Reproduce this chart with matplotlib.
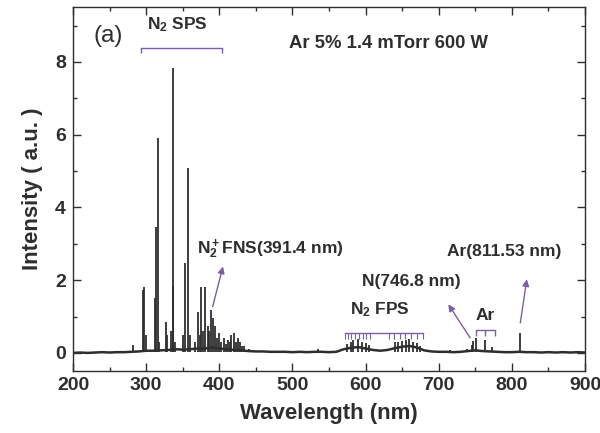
import matplotlib
matplotlib.use('Agg')
import matplotlib.pyplot as plt
import numpy as np

# continuum / baseline of the spectrum, read every 10 nm
base_nm = [200, 210, 220, 230, 240, 250, 260, 270, 280, 290,
           300, 310, 320, 330, 340, 350, 360, 370, 380, 390,
           400, 410, 420, 430, 440, 450, 460, 470, 480, 490,
           500, 510, 520, 530, 540, 550, 560, 570, 580, 590,
           600, 610, 620, 630, 640, 650, 660, 670, 680, 690,
           700, 710, 720, 730, 740, 750, 760, 770, 780, 790,
           800, 810, 820, 830, 840, 850, 860, 870, 880, 890, 900]
base_int = [0.0, 0.01, 0.0, 0.01, 0.02, 0.01, 0.02, 0.02, 0.03, 0.04,
            0.06, 0.06, 0.07, 0.08, 0.1, 0.09, 0.1, 0.12, 0.12, 0.15,
            0.12, 0.1, 0.08, 0.07, 0.05, 0.04, 0.04, 0.03, 0.03, 0.03,
            0.02, 0.03, 0.02, 0.03, 0.03, 0.02, 0.03, 0.1, 0.14, 0.16,
            0.12, 0.08, 0.06, 0.08, 0.13, 0.17, 0.19, 0.15, 0.07, 0.04,
            0.03, 0.03, 0.02, 0.03, 0.05, 0.07, 0.05, 0.04, 0.03, 0.02,
            0.02, 0.03, 0.02, 0.02, 0.01, 0.02, 0.01, 0.02, 0.01, 0.02, 0.01]

# emission lines (nm, intensity)
line_nm = [281.4, 295.3, 297.6, 299.5, 311.5, 313.5, 315.9, 318.0, 326.8, 328.5,
           333.5, 336.2, 337.1, 339.0, 350.0, 353.6, 357.7, 359.5, 367.2, 371.1,
           373.0, 375.5, 378.0, 380.5, 384.0, 386.0, 389.0, 391.4, 394.3, 397.0,
           399.8, 402.0, 405.9, 409.0, 411.5, 414.0, 416.0, 420.5, 423.0, 425.0,
           427.8, 431.0, 434.4, 440.0, 535.0,
           575.0, 580.0, 583.0, 590.0, 595.0, 600.0, 605.0,
           640.0, 645.0, 650.0, 655.0, 660.0, 665.0, 670.0, 675.0,
           715.0, 738.0, 745.0, 747.5, 751.0, 763.5, 772.4, 811.5]
line_int = [0.22, 1.72, 1.81, 0.5, 1.5, 3.45, 5.9, 0.3, 0.84, 0.5,
            0.6, 1.85, 7.82, 0.3, 0.5, 2.47, 5.08, 0.5, 0.3, 1.12,
            0.5, 1.82, 0.6, 1.82, 0.75, 0.6, 1.19, 0.95, 0.75, 0.4,
            0.56, 0.3, 0.42, 0.25, 0.36, 0.3, 0.48, 0.55, 0.3, 0.4,
            0.3, 0.2, 0.2, 0.12, 0.1,
            0.25, 0.3, 0.35, 0.38, 0.3, 0.28, 0.22,
            0.3, 0.3, 0.33, 0.35, 0.38, 0.3, 0.28, 0.2,
            0.08, 0.12, 0.22, 0.33, 0.4, 0.35, 0.15, 0.56]

# band markers
sps_span = [293, 404]
fps_ticks = [572, 576, 580.5, 585.5, 590.6, 596, 601, 606,
             632.3, 639.5, 646.9, 654.5, 662.4, 670.5, 678.9]
ar_ticks = [750.4, 763.5, 777]

purple = '#7b5fa5'
dark = '#2e2e2e'

plt.rcParams['font.family'] = ['Liberation Sans', 'DejaVu Sans']
plt.rcParams['font.weight'] = 'bold'
plt.rcParams['mathtext.fontset'] = 'custom'
plt.rcParams['mathtext.rm'] = 'Liberation Sans:bold'
plt.rcParams['mathtext.it'] = 'Liberation Sans:bold'
plt.rcParams['mathtext.bf'] = 'Liberation Sans:bold'

fig = plt.figure(figsize=(6, 4.33), dpi=100)
ax = fig.add_axes([0.1217, 0.143, 0.8533, 0.84])

ax.plot(base_nm, base_int, color=dark, lw=1.8)
ax.vlines(line_nm, 0.02, line_int, color=dark, lw=1.3)

ax.set_xlim(200, 900)
ax.set_ylim(-0.5, 9.5)
ax.set_xticks(np.arange(200, 901, 100))
ax.set_xticks(np.arange(250, 900, 100), minor=True)
ax.set_yticks([0, 2, 4, 6, 8])
ax.set_yticks([1, 3, 5, 7, 9], minor=True)
ax.tick_params(which='both', direction='in', top=True, right=True, colors=dark,
               labelsize=14, width=1)
ax.tick_params(which='major', length=6)
ax.tick_params(which='minor', length=3)
ax.tick_params(axis='x', pad=4)
ax.tick_params(axis='y', pad=5)
for s in ax.spines.values():
    s.set_color(dark)
    s.set_linewidth(1.0)

ax.set_xlabel('Wavelength (nm)', fontsize=16, fontweight='bold', color=dark, labelpad=7)
ax.set_ylabel('Intensity ( a.u. )', fontsize=16, fontweight='bold', color=dark, labelpad=9)

fs = 12.5
ax.text(248, 8.7, '(a)', fontsize=17.5, fontweight='normal', color=dark, ha='center', va='center')
ax.text(343, 9.02, 'N$_2$ SPS', fontsize=fs, color=dark, ha='center', va='center')
ax.plot([sps_span[0], sps_span[1]], [8.39, 8.39], color=purple, lw=1)
ax.vlines(sps_span, 8.25, 8.39, color=purple, lw=1)
ax.text(495.6, 8.51, 'Ar 5% 1.4 mTorr 600 W', fontsize=13.3, color=dark, ha='left', va='center')

ax.text(370, 2.85, 'N$_2^+$FNS(391.4 nm)', fontsize=fs, color=dark, ha='left', va='center')
ax.annotate('', xy=(406, 2.45), xytext=(390, 1.2),
            arrowprops=dict(arrowstyle='-|>', color=purple, lw=1, mutation_scale=10))

ax.text(620, 1.18, 'N$_2$ FPS', fontsize=fs, color=dark, ha='center', va='center')
ax.plot([fps_ticks[0], fps_ticks[-1]], [0.54, 0.54], color=purple, lw=1)
ax.vlines(fps_ticks, 0.38, 0.54, color=purple, lw=0.8)

ax.text(595, 1.96, 'N(746.8 nm)', fontsize=fs, color=dark, ha='left', va='center')
ax.annotate('', xy=(711, 1.4), xytext=(745, 0.35),
            arrowprops=dict(arrowstyle='-|>', color=purple, lw=1, mutation_scale=10))

ax.text(764, 1.04, 'Ar', fontsize=fs, color=dark, ha='center', va='center')
ax.plot([ar_ticks[0], ar_ticks[-1]], [0.63, 0.63], color=purple, lw=1)
ax.vlines(ar_ticks, 0.47, 0.63, color=purple, lw=1)

ax.text(711, 2.78, 'Ar(811.53 nm)', fontsize=fs, color=dark, ha='left', va='center')
ax.annotate('', xy=(821, 2.1), xytext=(811, 0.75),
            arrowprops=dict(arrowstyle='-|>', color=purple, lw=1, mutation_scale=10))

fig.savefig('out.png', dpi=100)
